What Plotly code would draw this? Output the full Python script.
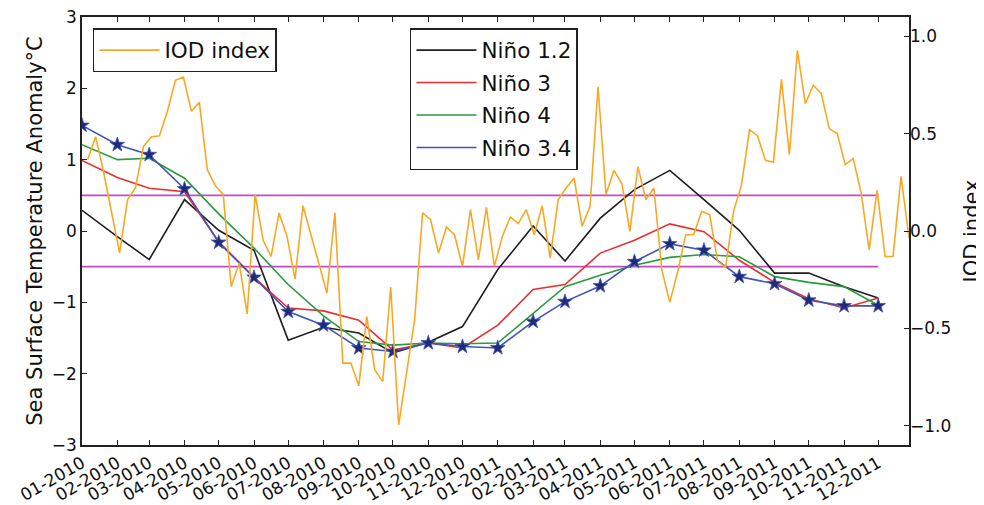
import plotly.graph_objects as go
import pandas as pd

# ---- data -------------------------------------------------------------
month_dates = ["2010-01-01", "2010-02-01", "2010-03-01", "2010-04-01", "2010-05-01", "2010-06-01",
               "2010-07-01", "2010-08-01", "2010-09-01", "2010-10-01", "2010-11-01", "2010-12-01",
               "2011-01-01", "2011-02-01", "2011-03-01", "2011-04-01", "2011-05-01", "2011-06-01",
               "2011-07-01", "2011-08-01", "2011-09-01", "2011-10-01", "2011-11-01", "2011-12-01"]
month_labels = ["01-2010", "02-2010", "03-2010", "04-2010", "05-2010", "06-2010",
                "07-2010", "08-2010", "09-2010", "10-2010", "11-2010", "12-2010",
                "01-2011", "02-2011", "03-2011", "04-2011", "05-2011", "06-2011",
                "07-2011", "08-2011", "09-2011", "10-2011", "11-2011", "12-2011"]

nino12 = [0.29, -0.08, -0.40, 0.44, 0.01, -0.27, -1.53, -1.35, -1.43, -1.71, -1.56, -1.34,
          -0.54, 0.07, -0.42, 0.18, 0.58, 0.85, 0.44, 0.01, -0.59, -0.59, -0.78, -0.94]
nino3 = [0.99, 0.75, 0.60, 0.55, -0.15, -0.65, -1.08, -1.12, -1.25, -1.67, -1.57, -1.64,
         -1.32, -0.82, -0.75, -0.31, -0.13, 0.10, -0.01, -0.41, -0.72, -0.95, -1.08, -0.94]
nino4 = [1.21, 1.00, 1.02, 0.74, 0.24, -0.24, -0.75, -1.19, -1.55, -1.60, -1.57, -1.58,
         -1.57, -1.16, -0.78, -0.62, -0.48, -0.37, -0.33, -0.36, -0.64, -0.72, -0.78, -1.04]
nino34 = [1.48, 1.21, 1.07, 0.59, -0.16, -0.65, -1.13, -1.32, -1.64, -1.69, -1.57, -1.62,
          -1.64, -1.27, -0.99, -0.77, -0.43, -0.18, -0.27, -0.64, -0.74, -0.97, -1.05, -1.05]

iod_start = "2010-01-06"
iod = [0.367, 0.484, 0.302, 0.104, -0.112, 0.161, 0.223, 0.435, 0.484, 0.490,
       0.616, 0.775, 0.791, 0.616, 0.662, 0.315, 0.233, 0.187, -0.285, -0.165,
       -0.426, 0.187, -0.048, -0.131, 0.093, -0.028, -0.247, 0.130, -0.019, -0.173,
       -0.319, 0.093, -0.679, -0.679, -0.796, -0.440, -0.714, -0.774, -0.288, -0.997,
       -0.724, -0.457, 0.093, 0.058, -0.113, 0.021, -0.019, -0.182, 0.110, -0.148,
       0.121, -0.182, -0.028, 0.072, 0.038, 0.110, -0.019, 0.130, -0.139, 0.161,
       0.221, 0.273, 0.024, 0.127, 0.741, 0.187, 0.312, 0.243, -0.002, 0.331,
       0.161, 0.221, -0.199, -0.367, -0.208, -0.019, -0.019, 0.101, 0.084, -0.156,
       -0.185, 0.101, 0.238, 0.521, 0.490, 0.363, 0.353, 0.779, 0.393, 0.929,
       0.655, 0.749, 0.707, 0.525, 0.501, 0.341, 0.372, 0.196, -0.096, 0.209,
       -0.131, -0.131, 0.281, -0.036]
iod_dates = pd.date_range(iod_start, periods=len(iod), freq="7D")

threshold = 0.5
sst_ticks = [-3, -2, -1, 0, 1, 2, 3]
iod_ticks = [-1.0, -0.5, 0.0, 0.5, 1.0]

# ---- styles -----------------------------------------------------------
FONT = "DejaVu Sans"
C_IOD = "#f9a825"
C_12 = "#1e1e1e"
C_3 = "#ea2e2e"
C_4 = "#2a9a3e"
C_34 = "#3f55b8"
C_STAR = "#1f2a78"
C_MAG = "#c24cc2"
AX = "#222222"
LW = 1.6

fig = go.Figure()

for sign in (1, -1):
    fig.add_trace(go.Scatter(x=month_dates, y=[sign * threshold] * len(month_dates),
                             mode="lines", line=dict(color=C_MAG, width=LW),
                             showlegend=False, hoverinfo="skip"))

for name, vals, col in [("Niño 1.2", nino12, C_12), ("Niño 3", nino3, C_3),
                        ("Niño 4", nino4, C_4), ("Niño 3.4", nino34, C_34)]:
    fig.add_trace(go.Scatter(x=month_dates, y=vals, mode="lines", name=name,
                             legendgroup=name, line=dict(color=col, width=LW),
                             legend="legend2"))

fig.add_trace(go.Scatter(x=month_dates, y=nino34, mode="markers", showlegend=False,
                         marker=dict(symbol="star", size=11, color=C_STAR,
                                     line=dict(color=C_34, width=0.8))))

fig.add_trace(go.Scatter(x=iod_dates, y=iod, mode="lines", name="IOD index", yaxis="y2",
                         line=dict(color=C_IOD, width=LW), legend="legend"))

legend_common = dict(xanchor="left", yanchor="top", bgcolor="white", bordercolor=AX,
                     borderwidth=1.5, font=dict(family=FONT, size=21.5, color="#111"),
                     itemwidth=60)

# the page body adds an 8 px offset; size/margins compensate so the plot
# area spans x 82..909 and y 17..445 in the window
fig.update_layout(
    width=976, height=497,
    margin=dict(l=74, r=75, t=9, b=60),
    paper_bgcolor="white", plot_bgcolor="white",
    font=dict(family=FONT, size=17, color="#111"),
    legend=dict(x=0.0133, y=0.974, **legend_common),
    legend2=dict(x=0.3966, y=0.974, traceorder="grouped", tracegroupgap=1.5, **legend_common),
    xaxis=dict(type="date", range=["2010-01-01", "2011-12-28"], automargin=False,
               tickvals=month_dates, ticktext=month_labels, tickangle=-30,
               ticks="inside", ticklen=5, tickcolor=AX, tickwidth=1,
               ticklabeloverflow="allow",
               showline=True, linecolor=AX, linewidth=1.5, mirror="ticks",
               showgrid=False, zeroline=False, tickfont=dict(size=17)),
    yaxis=dict(range=[-3, 3], tickvals=sst_ticks, ticks="inside", ticklen=5, automargin=False,
               tickcolor=AX, showline=True, linecolor=AX, linewidth=1.5, mirror=True,
               ticklabeloverflow="allow",
               showgrid=False, zeroline=False, tickfont=dict(size=17),
               title=dict(text="Sea Surface Temperature Anomaly°C", font=dict(size=21), standoff=3)),
    yaxis2=dict(overlaying="y", side="right", range=[-1.1, 1.1], tickvals=iod_ticks, automargin=False,
                tickformat=".1f", ticks="inside", ticklen=5, tickcolor=AX,
                ticklabeloverflow="allow",
                showline=False, showgrid=False, zeroline=False, tickfont=dict(size=17),
                title=dict(text="IOD index", font=dict(size=21), standoff=34)),
)

fig.write_html("out.html")
